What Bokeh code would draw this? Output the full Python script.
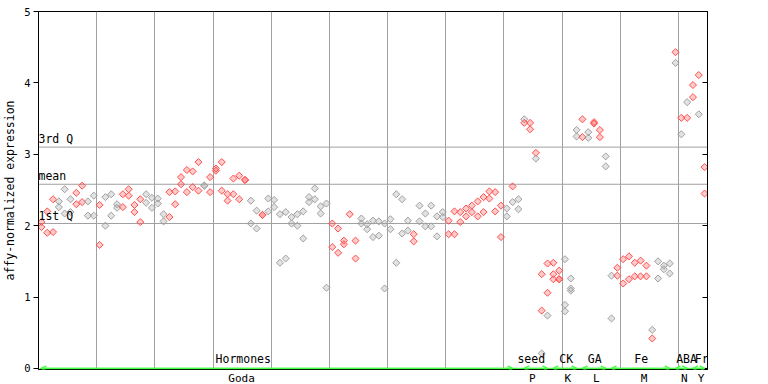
from bokeh.plotting import figure
from bokeh.models import (ColumnDataSource, FixedTicker, LinearAxis, Span, LabelSet,
                          Arrow, OpenHead, Range1d)
from bokeh.core.properties import value
from bokeh.embed import file_html
from bokeh.resources import INLINE

# ---- data: per-column replicate values (column k sits at k+0.5) ----
values = [
    [2.05, 1.98], [2.20, 1.90], [2.37, 1.91], [2.34, 2.26], [2.51, 2.17],
    [2.37, 2.19], [2.46, 2.30], [2.56, 2.33], [2.34, 2.14], [2.42, 2.14],
    [2.29, 1.73], [2.40, 2.00], [2.44, 2.14], [2.30, 2.25], [2.44, 2.26],
    [2.51, 2.42], [2.29, 2.19], [2.37, 2.05], [2.44, 2.32], [2.39, 2.25],
    [2.38, 2.31], [2.16, 2.06], [2.47, 2.12], [2.48, 2.30], [2.68, 2.58],
    [2.78, 2.47], [2.76, 2.54], [2.89, 2.49], [2.56, 2.56], [2.68, 2.47],
    [2.80, 2.77], [2.89, 2.49], [2.44, 2.35], [2.66, 2.44], [2.70, 2.37],
    [2.64, 2.64], [2.35, 2.03], [2.21, 1.96], [2.15, 2.15], [2.38, 2.20],
    [2.36, 2.26], [2.16, 1.48], [2.19, 1.54], [2.12, 2.03], [2.16, 2.00],
    [2.20, 1.82], [2.40, 2.33], [2.52, 2.37], [2.27, 2.17], [2.31, 1.13],
    [2.03, 1.70], [1.96, 1.62], [1.79, 1.74], [2.16], [1.79, 1.54],
    [2.10, 2.03], [2.02, 1.95], [2.07, 1.84], [2.06, 1.86], [2.03, 1.12],
    [2.09, 1.95], [2.44, 1.48], [2.37, 1.89], [2.07, 1.93], [1.88, 1.78],
    [2.28, 2.06], [2.17, 1.99], [2.28, 1.99], [2.13, 1.85], [2.19, 2.12],
    [2.07, 1.88], [2.20, 1.88], [2.19, 2.05], [2.24, 2.13], [2.28, 2.19],
    [2.34, 2.13], [2.40, 2.19], [2.48, 2.38], [2.47, 2.20], [2.28, 1.84],
    [2.24, 2.13], [2.55, 2.33], [2.37, 2.23], [3.49, 3.44], [3.44, 3.35],
    [3.02, 2.94], [1.32, 0.81, 0.21], [1.47, 1.06, 0.74], [1.48, 1.32, 1.25],
    [1.37, 1.25, 1.25], [1.53, 0.89, 0.80], [1.26, 1.12, 1.09],
    [3.34, 3.25], [3.49, 3.24], [3.31, 3.23], [3.45, 3.43], [3.34, 3.24],
    [2.97, 2.83], [1.30, 0.70], [1.41, 1.30], [1.53, 1.19], [1.57, 1.25],
    [1.48, 1.29], [1.51, 1.29], [1.44, 1.29], [0.54, 0.42], [1.50, 1.26],
    [1.44, 1.39], [1.47, 1.33], [4.43, 4.28], [3.51, 3.28], [3.73, 3.51],
    [3.97, 3.80], [4.11, 3.56], [2.82, 2.45],
]
# r = red, g = gray, per replicate
point_colors = [
    "rr", "rr", "rr", "gg", "gg", "gg", "rr", "rr", "gg", "gg",
    "rr", "gg", "gg", "gg", "rr", "rr", "rr", "rr", "gg", "gg",
    "gg", "gg", "rr", "rr", "rr", "rr", "rr", "rr", "gg", "rr",
    "rr", "rr", "rr", "rr", "rr", "rr", "gg", "gg", "rr", "gg",
    "gg", "gg", "gg", "gg", "gg", "gg", "gg", "gg", "gg", "gg",
    "rr", "rr", "rr", "r", "rr", "gg", "gg", "gg", "gg", "gg",
    "gg", "gg", "gg", "gg", "rr", "gg", "gg", "gg", "gg", "gg",
    "rr", "rr", "rr", "rr", "rr", "rr", "rr", "rr", "rr", "rr",
    "gg", "rg", "gg", "gr", "rr", "rg", "rrg", "rrg", "rrr",
    "rrr", "ggg", "ggg", "gg", "rr", "gg", "rr", "rr",
    "gg", "gg", "rr", "rr", "rr", "rr", "rr", "rr", "gr", "gg",
    "gg", "gg", "rg", "rg", "gr", "rr", "rg", "rr",
]

yticks = [0, 1, 2, 3, 4, 5]
xgrid_ticks = [10, 20, 30, 40, 50, 60, 70, 80, 90, 100, 110]
quart_names = ["1st Q", "mean", "3rd Q"]
quart_vals = [2.03, 2.58, 3.10]

top_labels = ["Hormones", "seed", "CK", "GA", "Fe", "ABA", "Fr"]
bottom_labels = ["Goda", "P", "K", "L", "M", "N", "Y"]
group_start = [0, 83, 88, 93, 98, 109, 112]
group_end = [81, 87, 92, 97, 108, 111, 114]
top_label_x = [35.2, 84.7, 90.7, 95.6, 103.6, 111.4, 114.0]
bottom_label_x = [34.9, 84.9, 91.0, 95.9, 104.1, 111.0, 113.9]

RED = "#FF5050"
GRAY = "#A0A0A0"
GREEN = "#44FF44"
FONT = "DejaVu Sans Mono"

xs, ys, cs = [], [], []
for k, (vals, cols) in enumerate(zip(values, point_colors)):
    for v, c in zip(vals, cols):
        xs.append(k + 0.5)
        ys.append(v)
        cs.append(RED if c == "r" else GRAY)

p = figure(width=752, height=387, x_range=Range1d(0, 115), y_range=Range1d(-0.015, 5),
           output_backend="svg", toolbar_location=None,
           min_border_left=29, min_border_right=45, min_border_top=11, min_border_bottom=17)
p.background_fill_color = "white"
p.border_fill_color = "white"
p.outline_line_color = "black"
p.outline_line_width = 1

# grid
p.ygrid.visible = False
p.xgrid.ticker = FixedTicker(ticks=xgrid_ticks)
p.xgrid.grid_line_color = GRAY
p.xgrid.grid_line_width = 1

for v in quart_vals:
    p.add_layout(Span(location=v, dimension="width", line_color=GRAY, line_width=1,
                      level="underlay"))

# axes
xa = p.xaxis[0]
xa.ticker = FixedTicker(ticks=bottom_label_x)
xa.major_label_overrides = {x: t for x, t in zip(bottom_label_x, bottom_labels)}
xa.major_tick_out = 0
xa.major_tick_in = 0
xa.minor_tick_out = 0
xa.minor_tick_in = 0
xa.axis_line_color = "black"
xa.major_label_standoff = 2
xa.major_label_text_font = FONT
xa.major_label_text_font_size = "11px"
xa.major_label_text_color = "black"

ya = p.yaxis[0]
ya.ticker = FixedTicker(ticks=yticks)
ya.major_tick_out = 5
ya.major_tick_in = 0
ya.minor_tick_out = 0
ya.minor_tick_in = 0
ya.axis_line_color = "black"
ya.major_label_standoff = 3
ya.major_label_text_font = FONT
ya.major_label_text_font_size = "10.5px"
ya.major_label_text_color = "black"
ya.axis_label = "affy-normalized expression"
ya.axis_label_text_font = FONT
ya.axis_label_text_font_size = "11.5px"
ya.axis_label_text_font_style = "normal"
ya.axis_label_text_color = "black"
ya.axis_label_standoff = 4

ra = LinearAxis(ticker=FixedTicker(ticks=yticks), major_tick_in=5, major_tick_out=0,
                minor_tick_in=0, minor_tick_out=0, major_label_standoff=0,
                major_label_overrides={t: "" for t in yticks}, axis_line_color="black")
p.add_layout(ra, "right")

# points
src = ColumnDataSource(dict(x=xs, y=ys, c=cs))
p.scatter("x", "y", source=src, marker="square", angle=0.785, size=5,
          fill_color="c", fill_alpha=0.3, line_color="c", line_width=1)

# green group line with arrows
p.segment(x0=[0.2], y0=[0], x1=[114.9], y1=[0], line_color=GREEN, line_width=1.5)
asrc = ColumnDataSource(dict(xs=[s + 0.5 for s in group_start], xe=[e + 0.5 for e in group_end],
                             y0=[0] * len(group_start)))
p.add_layout(Arrow(x_start="xs", y_start="y0", x_end="xe", y_end="y0", source=asrc,
                   line_color=GREEN, line_width=1.5,
                   start=OpenHead(size=5, line_color=GREEN, line_width=1.5),
                   end=OpenHead(size=5, line_color=GREEN, line_width=1.5)))

# group labels above the line
tsrc = ColumnDataSource(dict(x=top_label_x, y=[0] * len(top_labels), t=top_labels))
p.add_layout(LabelSet(x="x", y="y", text="t", source=tsrc, y_offset=2,
                      text_align="center", text_baseline="bottom",
                      text_font=value(FONT), text_font_size="11.5px", text_color="black"))

# quartile labels
qsrc = ColumnDataSource(dict(x=[0] * 3, y=quart_vals, t=quart_names))
p.add_layout(LabelSet(x="x", y="y", text="t", source=qsrc, x_offset=0, y_offset=1,
                      text_align="left", text_baseline="bottom",
                      text_font=value(FONT), text_font_size="11.5px", text_color="black"))

open("out.html", "w").write(file_html(p, INLINE))
